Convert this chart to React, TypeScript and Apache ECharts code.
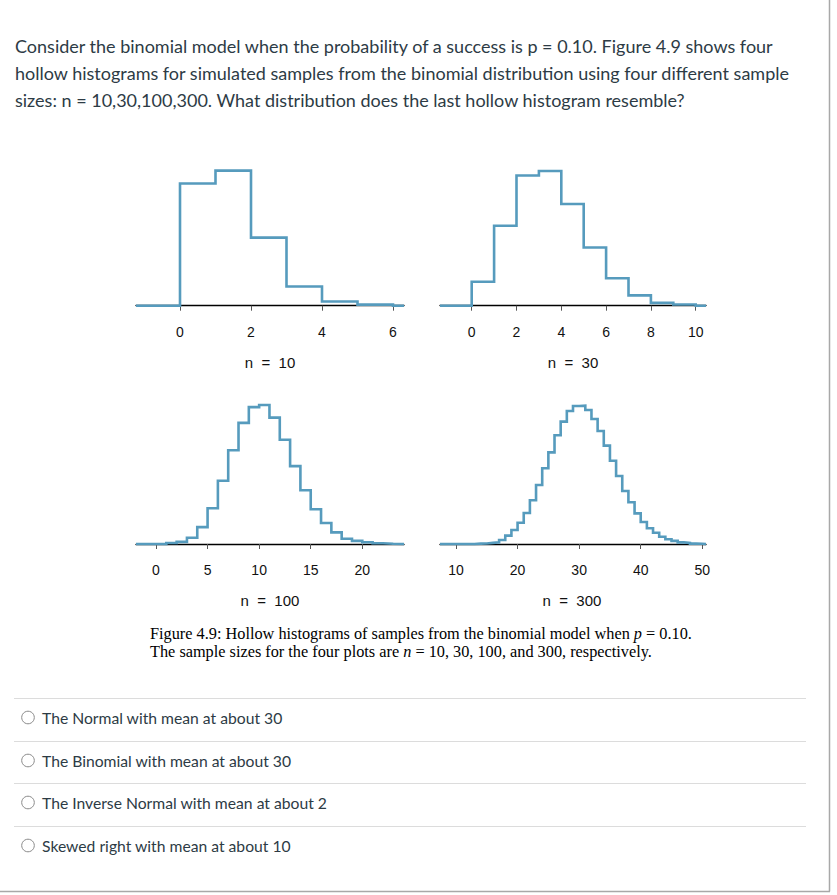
import React, { useEffect, useRef } from "react";
import * as echarts from "echarts";

const questionLines = [
  "Consider the binomial model when the probability of a success is p = 0.10. Figure 4.9 shows four",
  "hollow histograms for simulated samples from the binomial distribution using four different sample",
  "sizes: n = 10,30,100,300. What distribution does the last hollow histogram resemble?",
];

const answerOptions = [
  "The Normal with mean at about 30",
  "The Binomial with mean at about 30",
  "The Inverse Normal with mean at about 2",
  "Skewed right with mean at about 10",
];

const panelLabels = ["n = 10", "n = 30", "n = 100", "n = 300"];

// n = 10
const bins10 = [0, 1, 2, 3, 4, 5];
const values10 = [0.35, 0.387, 0.195, 0.055, 0.012, 0.003];
// n = 30
const bins30 = [0, 1, 2, 3, 4, 5, 6, 7, 8, 9];
const values30 = [0.042, 0.14, 0.228, 0.236, 0.178, 0.102, 0.048, 0.018, 0.005, 0.002];
// n = 100
const bins100 = [0, 1, 2, 3, 4, 5, 6, 7, 8, 9, 10, 11, 12, 13, 14, 15, 16, 17, 18, 19, 20, 21, 22];
const values100 = [
  0.0001, 0.001, 0.002, 0.006, 0.016, 0.034, 0.06, 0.089, 0.115, 0.13, 0.132, 0.12, 0.099, 0.074,
  0.051, 0.033, 0.02, 0.011, 0.005, 0.003, 0.0016, 0.0007, 0.0002,
];
// n = 300
const bins300 = [
  13, 14, 15, 16, 17, 18, 19, 20, 21, 22, 23, 24, 25, 26, 27, 28, 29, 30, 31, 32, 33, 34, 35, 36, 37,
  38, 39, 40, 41, 42, 43, 44, 45, 46, 47, 48, 49,
];
const values300 = [
  0.0002, 0.0003, 0.0006, 0.0009, 0.0022, 0.0046, 0.0077, 0.0117, 0.0171, 0.0241, 0.0325, 0.0417,
  0.0505, 0.0599, 0.0674, 0.0733, 0.076, 0.0762, 0.0738, 0.0689, 0.0623, 0.0542, 0.0459, 0.0375,
  0.0292, 0.023, 0.0169, 0.0121, 0.0087, 0.0062, 0.004, 0.0026, 0.0017, 0.0009, 0.0006, 0.0002,
  0.0001,
];

const captionLine1 = ["Figure 4.9: Hollow histograms of samples from the binomial model when ", "p", " = 0.10."];
const captionLine2 = ["The sample sizes for the four plots are ", "n", " = 10, 30, 100, and 300, respectively."];

// layout of each panel (pixels) + axis extents
const panels = [
  { bins: bins10, values: values10, axMin: 0, axMax: 6, interval: 2, pxMin: 180, pxMax: 393, base: 305.7, yMax: 0.4, pxPerY: 349, plotLo: 136, plotHi: 404, labelX: 270, labelY: 362 },
  { bins: bins30, values: values30, axMin: 0, axMax: 10, interval: 2, pxMin: 471.7, pxMax: 695.7, base: 305.7, yMax: 0.25, pxPerY: 571, plotLo: 440, plotHi: 706, labelX: 573, labelY: 362 },
  { bins: bins100, values: values100, axMin: 0, axMax: 20, interval: 5, pxMin: 156, pxMax: 362.3, base: 544, yMax: 0.14, pxPerY: 1053, plotLo: 136, plotHi: 404, labelX: 270, labelY: 600.5 },
  { bins: bins300, values: values300, axMin: 10, axMax: 50, interval: 10, pxMin: 456, pxMax: 702.3, base: 544, yMax: 0.08, pxPerY: 1815, plotLo: 440, plotHi: 706, labelX: 572, labelY: 600.5 },
];

const TEXT = "#2d3b45";
const BLUE = "#569BBD";

export default function App() {
  const ref = useRef<HTMLDivElement>(null);
  useEffect(() => {
    if (!ref.current) return;
    const chart = echarts.init(ref.current, undefined, { renderer: "svg" });

    const grid: any[] = [];
    const xAxis: any[] = [];
    const yAxis: any[] = [];
    const series: any[] = [];

    panels.forEach((p, i) => {
      const ppu = (p.pxMax - p.pxMin) / (p.axMax - p.axMin);
      const h = p.yMax * p.pxPerY;
      const lo = p.axMin + (p.plotLo - p.pxMin) / ppu;
      const hi = p.axMin + (p.plotHi - p.pxMin) / ppu;
      // axis grid (spans tick range only)
      const ga = grid.length;
      grid.push({ left: p.pxMin, width: p.pxMax - p.pxMin, top: p.base - h, height: h, containLabel: false });
      xAxis.push({
        gridIndex: ga,
        type: "value",
        min: p.axMin,
        max: p.axMax,
        interval: p.interval,
        offset: 6,
        axisLine: { show: true, lineStyle: { color: "#555", width: 1 } },
        axisTick: { show: true, length: 5, lineStyle: { color: "#555", width: 1 } },
        axisLabel: { fontFamily: "Liberation Sans, Arial, sans-serif", fontSize: 14, color: "#111", margin: 13 },
        splitLine: { show: false },
      });
      yAxis.push({ gridIndex: ga, type: "value", min: 0, max: p.yMax, show: false, splitLine: { show: false } });
      // data grid (spans full plot region); its axis line is the black baseline
      const gd = grid.length;
      grid.push({ left: p.plotLo, width: p.plotHi - p.plotLo, top: p.base - h, height: h, containLabel: false });
      xAxis.push({
        gridIndex: gd,
        type: "value",
        min: lo,
        max: hi,
        show: true,
        axisLine: { show: true, lineStyle: { color: "#000", width: 1.3 } },
        axisTick: { show: false },
        axisLabel: { show: false },
        splitLine: { show: false },
      });
      yAxis.push({ gridIndex: gd, type: "value", min: 0, max: p.yMax, show: false, splitLine: { show: false } });

      const last = p.bins[p.bins.length - 1];
      const stepData: number[][] = [[lo, 0]];
      p.bins.forEach((b, k) => stepData.push([b, p.values[k]]));
      stepData.push([last + 1, 0]);
      stepData.push([hi, 0]);
      series.push({
        type: "line",
        xAxisIndex: gd,
        yAxisIndex: gd,
        step: "end",
        data: stepData,
        symbol: "none",
        clip: false,
        silent: true,
        lineStyle: { color: BLUE, width: 2.6, join: "miter" },
        z: 3,
      });
    });

    const graphic: any[] = [];
    questionLines.forEach((t, i) => {
      graphic.push({
        type: "text",
        x: 15,
        y: 46 + i * 27,
        style: { text: t, fill: TEXT, font: "18px Lato", textVerticalAlign: "middle" },
      });
    });
    panels.forEach((p, i) => {
      graphic.push({
        type: "text",
        x: p.labelX,
        y: p.labelY,
        style: { text: panelLabels[i].replace(/ /g, "  "), fill: "#111", font: "15px 'Liberation Sans'", textAlign: "center", textVerticalAlign: "middle" },
      });
    });
    const capStyle = {
      a: { fontFamily: "Liberation Serif", fontSize: 16.3, color: "#222" },
      i: { fontFamily: "Liberation Serif", fontSize: 16.3, fontStyle: "italic", color: "#222" },
    };
    [captionLine1, captionLine2].forEach((parts, i) => {
      graphic.push({
        type: "text",
        x: 150,
        y: 633 + i * 18,
        style: {
          text: `{a|${parts[0]}}{i|${parts[1]}}{a|${parts[2]}}`,
          rich: capStyle,
          textVerticalAlign: "middle",
        },
      });
    });
    const sepY = [698, 741, 783, 826];
    sepY.forEach((y, i) => {
      graphic.push({ type: "line", shape: { x1: 14, y1: y + 0.5, x2: 806, y2: y + 0.5 }, style: { stroke: "#dcdcdc", lineWidth: 1 } });
      const cy = y + 19.5;
      graphic.push({ type: "circle", shape: { cx: 28, cy, r: 6.3 }, style: { fill: "#fff", stroke: "#8a8a8a", lineWidth: 1 } });
      graphic.push({
        type: "text",
        x: 42,
        y: cy,
        style: { text: answerOptions[i], fill: TEXT, font: "15.7px Lato", textVerticalAlign: "middle" },
      });
    });
    graphic.push({ type: "line", shape: { x1: 829.5, y1: 0, x2: 829.5, y2: 891.5 }, style: { stroke: "#a8a8a8", lineWidth: 1.5 } });
    graphic.push({ type: "line", shape: { x1: 0, y1: 891.5, x2: 830, y2: 891.5 }, style: { stroke: "#a8a8a8", lineWidth: 1.5 } });

    chart.setOption({
      animation: false,
      backgroundColor: "#fff",
      grid,
      xAxis,
      yAxis,
      series,
      graphic,
    });
    return () => chart.dispose();
  }, []);
  return <div ref={ref} style={{ position: "absolute", left: 0, top: 0, width: 837, height: 895 }} />;
}
